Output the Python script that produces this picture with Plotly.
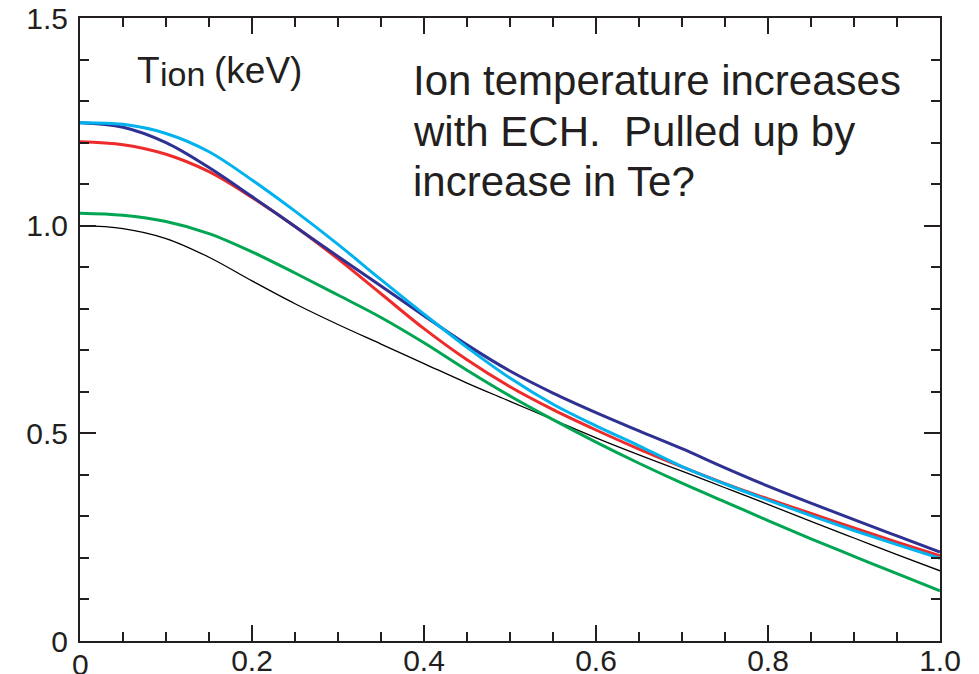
import plotly.graph_objects as go

# normalised radius
rho = [0.0, 0.05, 0.1, 0.15, 0.2, 0.25, 0.3, 0.35, 0.4, 0.45, 0.5,
       0.55, 0.6, 0.65, 0.7, 0.75, 0.8, 0.85, 0.9, 0.95, 1.0]

# ion temperature profiles (keV)
ti_black = [1.000, 0.993, 0.969, 0.924, 0.867, 0.812, 0.762, 0.715, 0.668, 0.621, 0.577,
            0.533, 0.489, 0.448, 0.409, 0.369, 0.329, 0.288, 0.248, 0.208, 0.169]
ti_green = [1.030, 1.025, 1.010, 0.981, 0.937, 0.886, 0.833, 0.779, 0.718, 0.652, 0.590,
            0.533, 0.479, 0.428, 0.380, 0.335, 0.290, 0.246, 0.204, 0.162, 0.121]
ti_red = [1.202, 1.195, 1.172, 1.130, 1.068, 0.998, 0.920, 0.836, 0.752, 0.677, 0.612,
          0.557, 0.508, 0.462, 0.419, 0.379, 0.342, 0.307, 0.272, 0.238, 0.205]
ti_blue = [1.248, 1.237, 1.200, 1.140, 1.070, 0.998, 0.926, 0.855, 0.783, 0.713, 0.650,
           0.597, 0.550, 0.506, 0.463, 0.417, 0.373, 0.332, 0.292, 0.253, 0.214]
ti_cyan = [1.248, 1.244, 1.222, 1.178, 1.110, 1.035, 0.955, 0.870, 0.787, 0.707, 0.633,
           0.570, 0.518, 0.470, 0.420, 0.378, 0.339, 0.302, 0.266, 0.232, 0.199]

x_ticks = [0, 0.2, 0.4, 0.6, 0.8, 1.0]
x_labels = ['', '0.2', '0.4', '0.6', '0.8', '1.0']
y_ticks = [0, 0.5, 1.0, 1.5]
y_labels = ['0', '0.5', '1.0', '1.5']

FONT = 'Liberation Sans, Arial, Helvetica, sans-serif'

fig = go.Figure()
series = [
    (ti_black, '#000000', 1.3),
    (ti_green, '#00A651', 3),
    (ti_red, '#EE2A2A', 3),
    (ti_blue, '#2E3192', 3),
    (ti_cyan, '#00B2EE', 3),
]
for ys, col, w in series:
    fig.add_trace(go.Scatter(x=rho, y=ys, mode='lines',
                             line=dict(color=col, width=w, shape='spline', smoothing=1.0),
                             showlegend=False))

axis_common = dict(showline=True, linecolor='#231F20', linewidth=2, mirror='ticks',
                   ticks='inside', ticklen=16, tickwidth=1.5, tickcolor='#231F20',
                   showgrid=False, zeroline=False, automargin=False,
                   tickfont=dict(family=FONT, size=30, color='#231F20'))

fig.update_xaxes(range=[0, 1], tickmode='array', tickvals=x_ticks, ticktext=x_labels,
                 ticklabelstandoff=-8,
                 minor=dict(ticks='inside', ticklen=9, dtick=0.05, tick0=0,
                            tickwidth=1.5, tickcolor='#231F20'),
                 **axis_common)
fig.update_yaxes(range=[0, 1.5], tickmode='array', tickvals=y_ticks, ticktext=y_labels,
                 ticklabelstandoff=4,
                 minor=dict(ticks='inside', ticklen=9, dtick=0.1, tick0=0,
                            tickwidth=1.5, tickcolor='#231F20'),
                 **axis_common)


def py(px):
    # pixel row -> paper fraction for the 18..641 plot area
    return (641 - px) / 623


def pxx(px):
    return (px - 80) / 860


annots = [
    ('T', 135, 70, 37),
    ('ion', 158, 74, 34),
    ('(keV)', 212, 70, 37),
    ('Ion temperature increases', 411, 80, 42),
    ('with ECH.  Pulled up by', 411, 131, 42),
    ('increase in Te?', 411, 181, 42),
]
for txt, xp, yp, fs in annots:
    fig.add_annotation(text=txt, xref='paper', yref='paper', x=pxx(xp), y=py(yp),
                       xanchor='left', yanchor='middle', showarrow=False,
                       font=dict(family=FONT, size=fs, color='#231F20'))

# x-axis zero label sits a little lower than the others
fig.add_annotation(text='0', xref='paper', yref='paper', x=0, y=py(664),
                   xanchor='center', yanchor='middle', showarrow=False,
                   font=dict(family=FONT, size=30, color='#231F20'))

fig.update_layout(width=979, height=674, paper_bgcolor='white', plot_bgcolor='white',
                  margin=dict(l=80, r=39, t=18, b=33))

fig.write_html('out.html', config={'displayModeBar': False},
               post_script="document.body.style.margin='0';")
